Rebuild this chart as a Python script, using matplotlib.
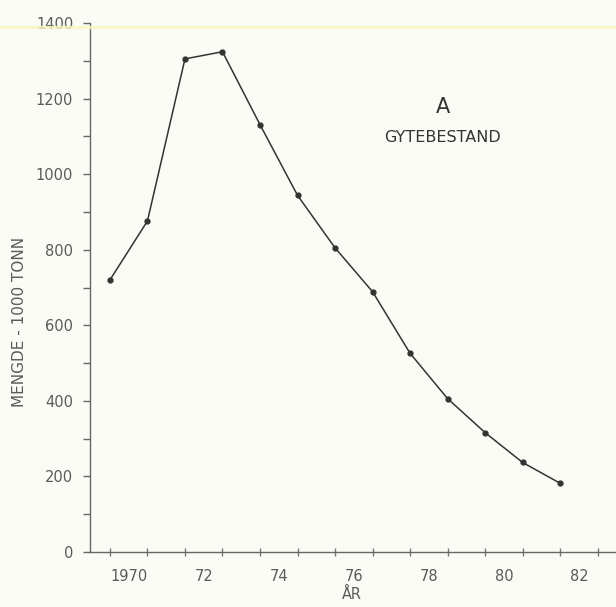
import numpy as np
import matplotlib.pyplot as plt
from matplotlib.lines import Line2D

# Spawning stock (1000 tonnes), value at start of each year
years = [1970, 1971, 1972, 1973, 1974, 1975, 1976, 1977, 1978, 1979, 1980, 1981, 1982]
stock = [720, 876, 1305, 1324, 1131, 944, 805, 689, 526, 406, 316, 237, 182]

year_labels = ['1970', '72', '74', '76', '78', '80', '82']
label_pos = [1970.5, 1972.5, 1974.5, 1976.5, 1978.5, 1980.5, 1982.5]

bg = '#fbfbf6'
ink = '#333333'
txt = '#5a5a5a'

fig = plt.figure(figsize=(6.16, 6.07), dpi=100, facecolor=bg)
ax = fig.add_axes([0.146, 0.0906, 0.854, 0.8715], facecolor=bg)

ax.plot(years, stock, color=ink, lw=1.1, marker='o', ms=3.5, mfc=ink, mec=ink)

ax.set_xlim(1969.467, 1983.49)
ax.set_ylim(0, 1400)

for s in ['top', 'right']:
    ax.spines[s].set_visible(False)
for s in ['left', 'bottom']:
    ax.spines[s].set_color('#666666')
    ax.spines[s].set_linewidth(1.0)

# y axis: ticks every 100, labels every 200
ax.set_yticks(np.arange(0, 1401, 200))
ax.set_yticks(np.arange(100, 1400, 200), minor=True)
ax.tick_params(axis='y', which='both', direction='out', length=5, width=1,
               color='#666666', labelsize=10.5, labelcolor=txt, pad=7)

# x axis: tick marks at year boundaries, labels in between
ax.set_xticks(np.arange(1970, 1984))
ax.set_xticklabels([])
ax.set_xticks(label_pos, minor=True)
ax.set_xticklabels(year_labels, minor=True)
ax.tick_params(axis='x', which='major', direction='inout', length=6, width=1,
               color='#777777')
ax.tick_params(axis='x', which='minor', length=0, labelsize=10.5,
               labelcolor=txt, pad=12)

ax.text(1978.88, 1178, 'A', ha='center', va='center', fontsize=15, color=ink)
ax.text(1978.86, 1098, 'GYTEBESTAND', ha='center', va='center', fontsize=11.5,
        color=ink)

fig.text(20 / 616, 1 - 322 / 607, 'MENGDE - 1000 TONN', rotation=90,
         ha='center', va='center', fontsize=11, color=txt)
fig.text(352 / 616, 1 - 594 / 607, 'ÅR', ha='center', va='center',
         fontsize=10.5, color=txt)

# faint highlighter streak from the scan
fig.add_artist(Line2D([0, 1], [1 - 27 / 607, 1 - 27 / 607],
                      transform=fig.transFigure, color='#f8f5c0', lw=2.5, alpha=0.8))

fig.savefig('out.png', dpi=100, facecolor=bg)
